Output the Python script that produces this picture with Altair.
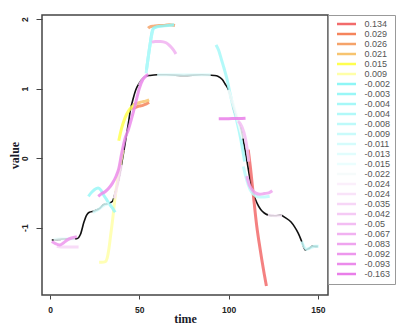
import altair as alt
import pandas as pd

# main (black) series
black_t = [1, 5, 10, 15, 17, 19, 20.5, 22, 25, 28, 30, 33, 35, 36.5, 38.5, 40, 42, 44, 45,
           46.5, 48, 50, 52, 54, 56, 60, 65, 75, 85, 92, 94, 96.5, 98, 100, 101.5, 103, 105,
           107, 109, 110.5, 112, 114, 116, 118, 120, 122.5, 126, 129, 132, 135, 137, 139, 141,
           143, 145, 147, 150]
black_v = [-1.18, -1.17, -1.16, -1.16, -1.1, -0.92, -0.82, -0.78, -0.76, -0.72, -0.67, -0.65,
           -0.62, -0.5, -0.3, -0.1, 0.2, 0.52, 0.69, 0.85, 0.98, 1.08, 1.15, 1.18, 1.19, 1.2,
           1.2, 1.19, 1.2, 1.19, 1.18, 1.13, 1.07, 0.98, 0.85, 0.69, 0.55, 0.41, 0.15, -0.07,
           -0.3, -0.52, -0.65, -0.74, -0.79, -0.82, -0.83, -0.82, -0.86, -0.92, -0.99, -1.08,
           -1.2, -1.32, -1.3, -1.27, -1.27]

series_labels = ["0.134", "0.029", "0.026", "0.021", "0.015", "0.009", "-0.002", "-0.003",
                 "-0.004", "-0.004", "-0.008", "-0.009", "-0.011", "-0.013", "-0.015", "-0.022",
                 "-0.024", "-0.024", "-0.035", "-0.042", "-0.05", "-0.067", "-0.083", "-0.092",
                 "-0.093", "-0.163"]
series_colors = ["#f26b6b", "#f5845c", "#f5a36a", "#f7c470", "#ffff4f", "#ffffa8", "#8ef6f6",
                 "#99f7f7", "#a6f8f8", "#b1f9f9", "#bdfafa", "#c9fbfb", "#d5fcfc", "#e1fdfd",
                 "#ebfefe", "#f6fbfb", "#fbeffb", "#f9e3f9", "#f7d6f7", "#f5caf5", "#f3bdf3",
                 "#f1b1f1", "#efa4ef", "#ed97ed", "#eb8beb", "#e97ee9"]
series_t = [
    [111, 112.4, 114, 115.8, 117.2, 118.6, 120, 121.2],
    [46, 48, 50, 52, 54, 55.5],
    [55, 56, 58, 61, 64, 67, 70],
    [46.5, 49, 51.5, 53.5, 55.5],
    [38.5, 40, 42, 44, 46, 47.5],
    [27.5, 29, 31, 32, 33, 34, 35, 36.5, 38, 39.5, 41],
    [54, 55, 56, 57, 58, 60, 63, 66, 69.5],
    [21.5, 23, 25, 27, 28.5, 30, 31.5, 33, 35, 36.5],
    [93, 94.5, 96, 97.5, 99, 100.5, 102, 104, 106, 107.5, 109],
    [53.8, 54.8, 55.8, 56.8, 57.6],
    [108.3, 110, 112, 114, 117, 120, 123],
    [141, 143.5, 146, 148.5, 150.5],
    [24, 27, 30, 33],
    [60, 70, 80, 90],
    [2, 6, 10, 14],
    [100, 104, 108],
    [122, 126, 130],
    [36, 38, 40],
    [3.8, 6, 9, 12, 16],
    [50, 52, 54],
    [105.5, 107.5, 109.3, 110.5, 111.3],
    [57, 59, 62, 65, 67, 69, 70.5],
    [110.2, 111.5, 113, 115, 117.5, 120, 122.5, 124.5],
    [1, 3, 5.5, 7.5, 9.5, 12, 15],
    [27, 29, 31, 33, 35, 37, 38.5, 40, 42, 44, 46, 48, 50, 52, 54, 55],
    [94.5, 98, 102, 106, 109.5],
]
series_v = [
    [0.12, -0.17, -0.56, -0.98, -1.23, -1.46, -1.67, -1.84],
    [0.71, 0.73, 0.75, 0.76, 0.78, 0.8],
    [1.87, 1.89, 1.9, 1.91, 1.91, 1.92, 1.91],
    [0.77, 0.79, 0.81, 0.82, 0.84],
    [0.25, 0.42, 0.58, 0.68, 0.74, 0.77],
    [-1.5, -1.5, -1.49, -1.44, -1.3, -1.1, -0.9, -0.55, -0.3, -0.08, 0.12],
    [1.27, 1.45, 1.63, 1.8, 1.87, 1.89, 1.9, 1.91, 1.92],
    [-0.55, -0.5, -0.45, -0.43, -0.46, -0.53, -0.59, -0.65, -0.72, -0.78],
    [1.63, 1.55, 1.42, 1.29, 1.15, 0.97, 0.8, 0.6, 0.38, 0.18, -0.05],
    [1.22, 1.42, 1.6, 1.75, 1.85],
    [-0.12, -0.3, -0.45, -0.52, -0.56, -0.56, -0.55],
    [-1.2, -1.31, -1.29, -1.27, -1.27],
    [-0.78, -0.74, -0.68, -0.65],
    [1.2, 1.2, 1.2, 1.2],
    [-1.17, -1.16, -1.16, -1.16],
    [0.98, 0.65, 0.28],
    [-0.82, -0.83, -0.83],
    [-0.58, -0.35, -0.1],
    [-1.27, -1.28, -1.28, -1.28, -1.28],
    [1.05, 1.14, 1.18],
    [0.53, 0.45, 0.3, 0.12, -0.05],
    [1.67, 1.68, 1.68, 1.66, 1.62, 1.56, 1.5],
    [-0.26, -0.38, -0.45, -0.5, -0.52, -0.51, -0.5, -0.47],
    [-1.2, -1.23, -1.25, -1.22, -1.18, -1.15, -1.13],
    [-0.55, -0.51, -0.48, -0.43, -0.36, -0.26, -0.15, 0.05, 0.28, 0.42, 0.6, 0.8, 1.0, 1.13, 1.19, 1.2],
    [0.565, 0.565, 0.57, 0.57, 0.575],
]

x_ticks = [0, 50, 100, 150]
y_ticks = [-1, 0, 1, 2]

# unique keys for duplicate legend labels (trailing spaces are not rendered)
seen = {}
keys = []
for lab in series_labels:
    n = seen.get(lab, 0)
    keys.append(lab + " " * n)
    seen[lab] = n + 1

rows = []
for k, ts, vs in zip(keys, series_t, series_v):
    for i, (t, v) in enumerate(zip(ts, vs)):
        rows.append({"series": k, "time": t, "value": v, "i": i})
df = pd.DataFrame(rows)
black_df = pd.DataFrame({"time": black_t, "value": black_v, "i": list(range(len(black_t)))})

xs = alt.Scale(domain=[-4.5, 155.7], nice=False, zero=False)
ys = alt.Scale(domain=[-1.97, 2.06], nice=False, zero=False)

x_axis = alt.Axis(values=x_ticks, title="time", domain=False, grid=False, tickSize=4,
                  tickColor="#444", labelFont="Liberation Sans", labelFontWeight="bold",
                  labelFontSize=8.5, labelColor="#222", labelBaseline="alphabetic",
                  labelPadding=13, labelExpr="'' + datum.value", labelFlush=False,
                  titleFont="Liberation Serif", titleFontSize=12, titleFontWeight="bold",
                  titleColor="#1a1a2a", titleBaseline="alphabetic", titleY=27.5)
y_axis = alt.Axis(values=y_ticks, title="value", domain=False, grid=False, tickSize=6,
                  tickColor="#444", labelFont="Liberation Sans", labelFontWeight="bold",
                  labelFontSize=8.5, labelColor="#222", labelAngle=270, labelAlign="center",
                  labelBaseline="alphabetic", labelPadding=9, labelExpr="'' + datum.value",
                  labelFlush=False,
                  titleFont="Liberation Serif", titleFontSize=12, titleFontWeight="bold",
                  titleColor="#1a1a2a", titleAngle=270, titleBaseline="alphabetic", titleX=-24)

legend = alt.Legend(title=None, orient="none", legendX=286, legendY=0, direction="vertical",
                    symbolType="M0,0H9.5", symbolSize=16, symbolStrokeWidth=2.5,
                    symbolOpacity=1, symbolFillColor="transparent",
                    labelFont="Liberation Sans", labelFontSize=9, labelColor="#555",
                    labelOffset=23, rowPadding=-1.37, padding=4.5, strokeColor="#999",
                    fillColor="white", cornerRadius=0, labelLimit=100)

colored = alt.Chart(df).mark_line(strokeWidth=3, opacity=0.85, interpolate="monotone").encode(
    x=alt.X("time:Q", scale=xs, axis=x_axis),
    y=alt.Y("value:Q", scale=ys, axis=y_axis),
    color=alt.Color("series:N", scale=alt.Scale(domain=keys, range=series_colors), legend=legend),
    order=alt.Order("i:Q"),
)

black = alt.Chart(black_df).mark_line(color="#111", strokeWidth=1.6, interpolate="monotone").encode(
    x=alt.X("time:Q", scale=xs),
    y=alt.Y("value:Q", scale=ys),
    order=alt.Order("i:Q"),
)

chart = alt.layer(black, colored).properties(
    width=286, height=280,
    padding={"left": 34, "top": 7, "right": 73, "bottom": 30},
    autosize=alt.AutoSizeParams(type="none"),
    background="white",
).configure_view(stroke="#444", strokeWidth=1.5)

chart.save("out.html", embed_options={"renderer": "svg", "actions": False})
